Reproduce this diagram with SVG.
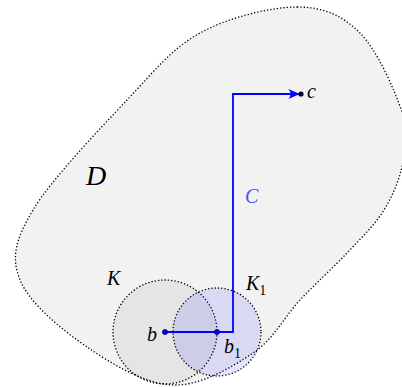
<svg xmlns="http://www.w3.org/2000/svg" width="402" height="387" viewBox="0 0 402 387">
<style>
.dotted{stroke:#000;stroke-width:1.3;stroke-dasharray:1.3 2;fill:none}
.lbl{font-family:"Liberation Serif","DejaVu Serif",serif;font-style:italic;font-size:20px;fill:#000}
.sub{font-style:normal;font-size:14px}
.pt{fill:#0000ff;stroke:#000;stroke-width:0.6}
</style>
<defs>
<marker id="arr" markerUnits="userSpaceOnUse" markerWidth="12" markerHeight="12" refX="9" refY="5" orient="auto" viewBox="0 0 10 10">
<path d="M0,0.8 Q4,5 0,9.2 L10,5 Z" fill="#0000ff"/>
</marker>
</defs>
<g id="D">
<path d="M297,7 C323.7,7 342.5,15.5 360,33 C377.5,50.5 394.8,90.5 402,112 C409.2,133.5 406,145.7 403,162 C400,178.3 393.2,195 384,210 C374.8,225 362,237 348,252 C334,267 315.8,283.2 300,300 C284.2,316.8 274.2,338.8 253,353 C231.8,367.2 200.7,386 173,385 C145.3,384 112.5,364.5 87,347 C61.5,329.5 29,302.8 20,280 C11,257.2 15.2,240 33,210 C50.8,180 99.2,129.5 127,100 C154.8,70.5 171.7,48.5 200,33 C228.3,17.5 270.3,7 297,7 Z" class="dotted" style="fill:#f2f2f2"/>
<text class="lbl" x="86" y="185" style="font-size:28px">D</text>
</g>
<g id="K">
<circle cx="165" cy="332" r="52" class="dotted" style="fill:#000;fill-opacity:0.05"/>
<text class="lbl" x="107" y="285">K</text>
</g>
<g id="K1">
<circle cx="217" cy="332" r="44" class="dotted" style="fill:#0000ff;fill-opacity:0.1"/>
<text class="lbl" x="246" y="290">K<tspan class="sub" dy="5">1</tspan></text>
</g>
<g id="connectors">
<path d="M165,332 H233 V94 H299" fill="none" stroke="#0000ff" stroke-width="1.8" marker-end="url(#arr)"/>
<text class="lbl" x="245" y="203" style="fill:#4d4dff">C</text>
</g>
<g id="b">
<circle class="pt" cx="165" cy="332" r="2.6"/>
<text class="lbl" x="147" y="341">b</text>
</g>
<g id="b1">
<circle class="pt" cx="217" cy="332" r="2.6"/>
<text class="lbl" x="224" y="353">b<tspan class="sub" dy="5">1</tspan></text>
</g>
<g id="c">
<circle cx="301" cy="94" r="2.6" fill="#000033"/>
<text class="lbl" x="307" y="98">c</text>
</g>
</svg>
